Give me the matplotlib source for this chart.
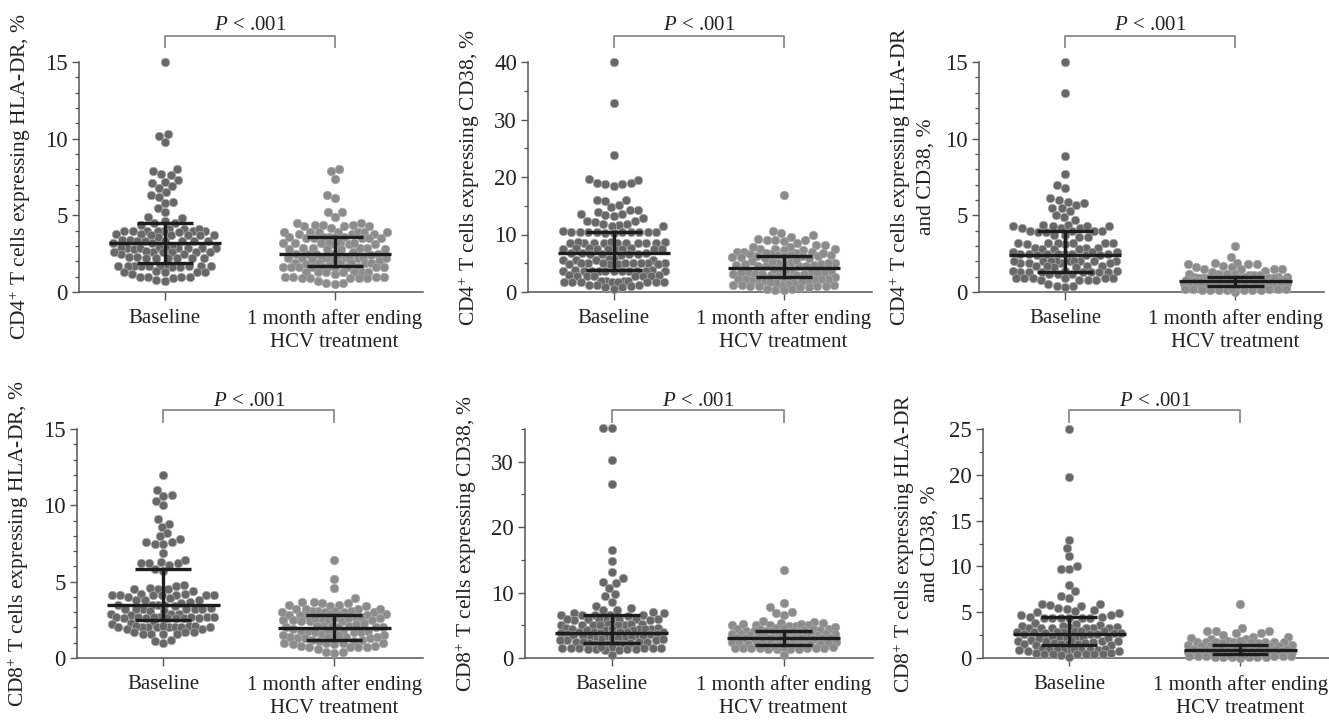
import numpy as np
import matplotlib
matplotlib.use("Agg")
import matplotlib.pyplot as plt
from matplotlib.ticker import MultipleLocator

plt.rcParams['font.family'] = ['Liberation Serif', 'DejaVu Serif']
plt.rcParams['mathtext.fontset'] = 'custom'
plt.rcParams['mathtext.rm'] = 'Liberation Serif'
plt.rcParams['mathtext.it'] = 'Liberation Serif:italic'
plt.rcParams['mathtext.bf'] = 'Liberation Serif:bold'

# ---------------- data ----------------
categories = ['Baseline', '1 month after ending\nHCV treatment']
p_label = '$\\mathit{P}$ < .001'

ylabels = ['CD4$^{+}$ T cells expressing HLA-DR, %',
           'CD4$^{+}$ T cells expressing CD38, %',
           'CD4$^{+}$ T cells expressing HLA-DR\nand CD38, %',
           'CD8$^{+}$ T cells expressing HLA-DR, %',
           'CD8$^{+}$ T cells expressing CD38, %',
           'CD8$^{+}$ T cells expressing HLA-DR\nand CD38, %']

y_max = [15, 40, 15, 15, 35, 25]
y_major = [5, 10, 5, 5, 10, 5]
y_minor = [1, 5, 1, 1, 5, 2.5]

cd4_hladr_base = [15.0, 10.3, 10.2, 9.8, 8.0, 7.9, 7.7, 7.6, 7.3, 7.2, 7.1, 6.9, 6.8, 6.5,
                  6.3, 6.2, 5.9, 5.8, 5.5, 5.2, 4.9, 4.8,
                  4.6, 4.5, 4.5, 4.4,
                  4.1, 4.1, 4.0, 4.0, 4.0, 4.0, 4.0, 3.9, 4.0, 4.1, 4.0,
                  3.8, 3.7, 3.7, 3.7, 3.6, 3.7, 3.7, 3.8,
                  3.4, 3.3, 3.3, 3.3, 3.2, 3.3, 3.3, 3.4, 3.3, 3.2,
                  2.9, 2.9, 2.9, 2.9, 3.0, 2.9, 2.8, 2.9, 2.9, 2.9, 2.9,
                  2.6, 2.6, 2.6, 2.5, 2.6, 2.6, 2.5, 2.7, 2.6,
                  2.2, 2.2, 2.3, 2.2, 2.2, 2.2, 2.3, 2.2,
                  1.7, 1.7, 1.7, 1.7, 1.7, 1.6, 1.7, 1.6, 1.7, 1.7, 1.7, 1.7,
                  1.3, 1.3, 1.3, 1.2, 1.3, 1.4,
                  1.0, 1.0, 0.9, 1.0, 1.0,
                  0.8, 0.7]
cd4_hladr_post = [8.0, 7.9, 7.4, 6.3, 6.1, 5.2, 5.2, 4.9,
                  4.5, 4.4, 4.4, 4.3, 4.3, 4.4, 4.5, 4.3, 4.2,
                  3.9, 3.9, 3.8, 3.9, 3.9, 3.8, 3.9, 3.9, 3.8, 3.9,
                  3.6, 3.5, 3.5, 3.6, 3.5, 3.6, 3.5, 3.6, 3.5, 3.6,
                  3.2, 3.2, 3.1, 3.2, 3.2, 3.1, 3.2, 3.2, 3.1,
                  2.9, 2.8, 2.9, 2.8, 2.9, 2.8, 2.9, 2.8,
                  2.5, 2.5, 2.4, 2.5, 2.5, 2.5, 2.6,
                  2.2, 2.2, 2.2, 2.1, 2.2, 2.2, 2.3, 2.2, 2.2, 2.1, 2.2, 2.2,
                  1.9, 1.9, 1.9, 2.0, 1.9, 1.9, 1.9, 1.8,
                  1.6, 1.6, 1.6, 1.6, 1.6, 1.6, 1.7, 1.6, 1.6, 1.6, 1.6,
                  1.3, 1.3, 1.3, 1.2, 1.3, 1.3, 1.3, 1.3,
                  1.0, 0.9, 1.0, 0.9, 1.0, 0.9, 1.0, 0.9, 0.9,
                  0.6, 0.5, 0.6, 0.7]

cd4_cd38_base = [40.0, 32.8, 23.9,
                 19.5, 18.9, 18.7, 18.5, 18.8, 19.0, 19.6,
                 16.0, 15.8, 14.7, 15.2, 16.0,
                 14.2, 14.0, 13.5, 12.8, 13.3, 13.5, 13.4, 14.2,
                 12.3, 11.8, 11.6, 11.5, 11.5, 11.9, 12.2, 12.4,
                 10.5, 10.4, 10.4, 10.3, 10.5, 10.4, 10.3, 10.5, 10.4, 10.6, 10.4, 10.5,
                 8.7, 8.6, 8.5, 8.6, 8.6, 8.7, 8.5, 8.6, 8.6, 8.5, 8.7, 8.6,
                 7.6, 7.5, 7.4, 7.5, 7.6, 7.5, 7.4, 7.6, 7.5, 7.5,
                 6.7, 6.6, 6.6, 6.5, 6.7, 6.6, 6.6, 6.8,
                 5.7, 5.6, 5.5, 5.6, 5.7, 5.5,
                 5.0, 5.1, 4.9, 5.0, 5.0, 4.9, 5.1, 5.0, 4.9, 5.0, 5.0, 4.8,
                 3.7, 3.7, 3.8, 3.6, 3.7, 3.7, 3.6, 3.8, 3.7, 3.7, 3.6, 3.7, 3.7,
                 2.8, 2.9, 2.7, 2.8, 2.8, 2.7, 2.9, 2.8,
                 1.9, 1.8, 1.8, 1.7, 1.9, 1.8, 1.8, 1.9, 1.7, 1.8, 1.8, 1.9,
                 1.3, 1.2, 1.1, 1.3,
                 0.8, 0.6, 0.9]
cd4_cd38_post = [16.8, 10.6, 10.3,
                 9.6, 9.1, 9.0, 8.6, 8.9, 9.1, 9.3, 9.9,
                 8.2, 7.8, 7.5, 7.4, 7.3, 6.9, 6.9, 7.0, 7.3, 7.5, 7.9, 8.2,
                 6.8, 6.6, 6.5, 6.4, 6.3, 6.2, 6.1, 6.0, 6.0, 6.1, 6.2, 6.3, 6.5, 6.6, 6.7, 6.8,
                 5.4, 5.2, 5.0, 4.9, 4.8, 4.7, 4.6, 4.5, 4.5, 4.6, 4.7, 4.8, 5.0, 5.1, 5.3, 5.5,
                 3.9, 3.7, 3.5, 3.4, 3.3, 3.2, 3.1, 3.0, 3.0, 3.1, 3.2, 3.3, 3.5, 3.6, 3.8, 4.0,
                 2.6, 2.4, 2.3, 2.2, 2.1, 2.0, 1.9, 1.9, 2.0, 2.1, 2.2, 2.3, 2.5, 2.7,
                 1.6, 1.4, 1.3, 1.2, 1.1, 1.0, 0.9, 0.9, 1.0, 1.1, 1.2, 1.3, 1.5, 1.7,
                 0.5, 0.3, 0.4, 0.6]

cd4_both_base = [15.0, 13.0, 8.9, 7.7, 7.0, 6.8,
                 6.1, 6.0, 5.9, 5.8, 5.7,
                 5.5, 5.5, 5.3, 5.0, 4.9, 4.7,
                 4.4, 4.3, 4.2, 4.3, 4.2, 4.3, 4.2, 4.3, 4.4,
                 4.0, 3.9, 4.0, 4.0, 3.9, 4.0,
                 3.7, 3.6, 3.7, 3.6,
                 3.2, 3.2, 3.1, 3.2, 3.2, 3.1, 3.2, 3.2,
                 2.9, 2.8, 2.9, 2.8, 2.9, 2.8,
                 2.6, 2.5, 2.5, 2.4, 2.5, 2.4, 2.5, 2.4, 2.5, 2.5, 2.6, 2.5, 2.6,
                 2.0, 2.0, 1.9, 2.0, 2.0, 1.9, 2.0, 1.9, 2.0, 2.0, 1.9, 2.0, 2.0,
                 1.7, 1.6, 1.7, 1.6, 1.7, 1.7,
                 1.4, 1.3, 1.3, 1.2, 1.3, 1.3, 1.2, 1.3, 1.3, 1.2, 1.3, 1.4, 1.4,
                 0.9, 0.8, 0.9, 0.8, 0.9, 0.8, 0.9, 0.8, 0.9, 0.9,
                 0.4, 0.3, 0.4, 0.5]
cd4_both_post = [3.0, 2.3, 1.9, 1.9,
                 1.8, 1.8, 1.6, 1.5, 1.5, 1.4, 1.5, 1.5, 1.6, 1.7, 1.8,
                 1.2, 1.2, 1.1, 1.1, 1.0, 1.0, 1.0, 0.9, 0.9, 1.0, 1.0, 1.1, 1.1, 1.2, 1.2, 1.3,
                 0.9, 0.9, 0.8, 0.9, 0.8, 0.9, 0.8, 0.9, 0.9, 0.8, 0.9, 1.0,
                 0.8, 0.8, 0.8, 0.7, 0.7, 0.7, 0.7, 0.7, 0.6, 0.6, 0.7, 0.7, 0.7, 0.7, 0.8, 0.8, 0.8, 0.9,
                 0.6, 0.5, 0.6, 0.5, 0.6, 0.5, 0.6, 0.5, 0.6, 0.6, 0.5, 0.6,
                 0.5, 0.5, 0.5, 0.4, 0.4, 0.4, 0.4, 0.3, 0.3, 0.3, 0.3, 0.4, 0.4, 0.4, 0.5, 0.5, 0.5, 0.6,
                 0.2, 0.2, 0.2, 0.1, 0.1, 0.1, 0.1, 0.0, 0.1, 0.1, 0.2, 0.2, 0.2, 0.1]

cd8_hladr_base = [12.0, 11.0, 10.7, 10.6, 10.3, 10.0,
                  9.1, 8.8, 8.6, 8.2, 8.0,
                  7.8, 7.6, 7.5, 7.5, 7.6,
                  6.9,
                  6.3, 6.2, 6.2, 6.1, 6.2, 6.4,
                  5.8, 5.7,
                  4.8, 4.7, 4.6,
                  4.5, 4.5, 4.4, 4.5,
                  4.2, 4.1, 4.1, 4.1, 4.0, 4.1, 4.1, 4.2, 4.1, 4.1,
                  3.9, 3.8, 3.8, 3.7, 3.8,
                  3.5, 3.5, 3.4, 3.5, 3.5, 3.6,
                  3.2, 3.2, 3.1, 3.2, 3.2, 3.1, 3.2, 3.2, 3.3,
                  2.9, 2.8, 2.9, 2.9,
                  2.7, 2.7, 2.6, 2.7, 2.6, 2.6, 2.6, 2.7, 2.6, 2.6, 2.7, 2.7, 2.7,
                  2.3, 2.3, 2.2,
                  2.1, 2.0, 2.0, 2.0, 1.9, 2.0, 2.0, 2.0, 1.9, 2.0, 2.0, 2.1, 2.1, 2.1,
                  1.7, 1.6, 1.6, 1.6, 1.6, 1.7, 1.7,
                  1.2, 1.1, 0.95]
cd8_hladr_post = [6.4, 5.2, 4.6, 3.9,
                  3.7, 3.6, 3.5, 3.4, 3.4, 3.5, 3.6, 3.7,
                  3.2, 3.2, 3.1, 3.1, 3.0, 3.0, 2.9, 3.0, 3.0, 3.1, 3.1, 3.2, 3.2,
                  2.8, 2.8, 2.7, 2.8, 2.7, 2.8, 2.8, 2.9,
                  2.6, 2.6, 2.5, 2.5, 2.4, 2.4, 2.3, 2.4, 2.5, 2.5, 2.6, 2.6, 2.6,
                  2.1, 2.1, 2.0, 2.0, 1.9, 2.0, 2.0, 2.1, 2.1, 2.2,
                  1.8, 1.8, 1.7, 1.7, 1.6, 1.7, 1.7, 1.8, 1.8, 1.8,
                  1.5, 1.4, 1.4, 1.3, 1.3, 1.2, 1.2, 1.3, 1.3, 1.4, 1.4, 1.5, 1.5,
                  1.0, 1.0, 0.9, 0.9, 1.0, 1.0, 1.1, 1.1,
                  0.8, 0.7, 0.7, 0.6, 0.7, 0.7, 0.8,
                  0.4, 0.3, 0.4]

cd8_cd38_base = [35.1, 35.1, 30.2, 26.6,
                 16.5, 14.8, 13.2, 12.2, 11.6, 11.4, 10.7,
                 9.8, 9.4, 8.6, 8.0, 7.6, 7.4, 7.3, 7.0, 6.9, 6.9,
                 6.6, 6.5, 6.5, 6.4, 6.5, 6.6,
                 6.0, 6.0, 5.9, 5.9, 5.8, 5.8, 5.9, 5.9, 6.0, 6.0,
                 5.2, 5.1, 5.1, 5.0, 5.0, 5.1, 5.1, 5.2, 5.2,
                 4.6, 4.5, 4.4, 4.3, 4.3, 4.3, 4.4, 4.4, 4.5, 4.6,
                 4.0, 3.9, 3.8, 3.7, 3.7, 3.6, 3.7, 3.7, 3.8, 3.9, 3.9, 4.0,
                 3.4, 3.3, 3.2, 3.1, 3.0, 2.9, 2.8, 2.8, 2.8, 2.9, 3.0, 3.1, 3.2, 3.3, 3.4, 3.5,
                 2.5, 2.4, 2.3, 2.2, 2.1, 2.1, 2.2, 2.3, 2.4, 2.5,
                 1.7, 1.6, 1.6, 1.5, 1.4, 1.3, 1.2, 1.2, 1.3, 1.4, 1.5, 1.6, 1.6, 1.7,
                 0.5]
cd8_cd38_post = [13.5, 8.4, 7.8, 7.0, 6.9, 6.6, 5.6, 5.5,
                 5.3, 5.2, 5.1, 5.0, 4.9, 4.9, 5.0, 5.1, 5.2, 5.4,
                 4.6, 4.5, 4.4, 4.3, 4.2, 4.1, 4.1, 4.1, 4.2, 4.3, 4.4, 4.5, 4.6, 4.7,
                 3.8, 3.7, 3.7, 3.6, 3.5, 3.4, 3.3, 3.3, 3.4, 3.5, 3.6, 3.7, 3.7, 3.8, 3.9, 3.9,
                 3.1, 3.0, 3.0, 2.9, 2.8, 2.7, 2.6, 2.6, 2.7, 2.8, 2.9, 3.0, 3.0, 3.1, 3.2, 3.2,
                 2.4, 2.3, 2.2, 2.1, 2.0, 2.0, 1.9, 2.0, 2.0, 2.1, 2.2, 2.3, 2.4, 2.5,
                 1.7, 1.6, 1.6, 1.5, 1.5, 1.4, 1.3, 1.3, 1.4, 1.5, 1.5, 1.6, 1.7, 1.8,
                 0.5]

cd8_both_base = [25.0, 19.8, 12.9, 12.0, 11.1, 10.0, 9.7, 9.7, 8.0, 7.3, 6.8, 6.6,
                 5.9, 5.8, 5.5, 5.4, 5.7, 5.9,
                 5.2, 4.9, 5.0, 4.7, 4.7, 5.1,
                 4.5, 4.4, 4.4, 4.4, 4.4, 4.4, 4.4, 4.5,
                 3.7, 3.8, 3.6,
                 3.5, 3.4, 3.3, 3.3, 3.3, 3.3, 3.3, 3.3, 3.4, 3.5,
                 2.9, 2.8, 2.8, 2.7, 2.7, 2.6, 2.6, 2.6, 2.7, 2.7, 2.8, 2.8, 2.9, 3.0,
                 2.3, 2.2, 2.1, 2.0, 1.9, 1.9, 1.8, 1.9, 1.9, 2.0, 2.1, 2.2, 2.3, 2.4,
                 1.6, 1.5, 1.5, 1.4, 1.4, 1.5, 1.5, 1.6,
                 1.0, 0.9, 0.9, 0.9, 0.9, 0.8, 0.8, 0.9, 0.9, 0.9, 0.9, 1.0, 1.0,
                 0.5, 0.4, 0.4, 0.4, 0.3, 0.4, 0.4, 0.4, 0.5,
                 0.1]
cd8_both_post = [5.9, 3.3,
                 3.0, 2.9, 2.7, 2.5, 2.3, 2.1, 2.1, 2.2, 2.3, 2.7, 3.0,
                 1.9, 1.8, 1.8, 1.7, 1.7, 1.6, 1.5, 1.5, 1.6, 1.7, 1.7, 1.8, 1.8, 1.9,
                 1.4, 1.3, 1.3, 1.2, 1.2, 1.1, 1.1, 1.0, 1.0, 1.1, 1.1, 1.2, 1.2, 1.3, 1.3, 1.4,
                 0.9, 0.9, 0.9, 0.8, 0.8, 0.8, 0.7, 0.7, 0.7, 0.7, 0.8, 0.8, 0.8, 0.9, 0.9, 0.9, 1.0, 1.0,
                 0.6, 0.6, 0.5, 0.5, 0.5, 0.4, 0.4, 0.4, 0.4, 0.4, 0.4, 0.5, 0.5, 0.5, 0.6, 0.6, 0.6, 0.6,
                 0.3, 0.2, 0.2, 0.2, 0.1, 0.1, 0.1, 0.0, 0.1, 0.1, 0.1, 0.2, 0.2, 0.2, 0.3, 0.3]

base_groups = [cd4_hladr_base, cd4_cd38_base, cd4_both_base,
               cd8_hladr_base, cd8_cd38_base, cd8_both_base]
post_groups = [cd4_hladr_post, cd4_cd38_post, cd4_both_post,
               cd8_hladr_post, cd8_cd38_post, cd8_both_post]

# median and interquartile range
median_base = [3.2, 6.7, 2.4, 3.5, 3.8, 2.67]
q1_base = [1.9, 3.8, 1.3, 2.5, 2.35, 1.46]
q3_base = [4.5, 10.5, 4.0, 5.8, 6.5, 4.43]
median_post = [2.5, 4.25, 0.72, 1.97, 3.07, 0.84]
q1_post = [1.7, 2.6, 0.39, 1.2, 2.05, 0.48]
q3_post = [3.6, 6.2, 0.96, 2.8, 4.2, 1.39]

# ---------------- layout ----------------
W, H = 1329, 720
boxes = [(79, 62, 344, 230), (528, 62, 344, 230), (979, 62, 345, 230),
         (77, 429, 346, 229), (525, 429, 348, 229), (983, 429, 346, 229)]
bracket_y = [(1.065, 1.113, 1.16)] * 3 + [(1.029, 1.081, 1.118)] * 3
label_x = [-0.133, -0.133, -0.126, -0.133, -0.133, -0.126]

BASE_COL = '#686868'
POST_COL = '#8c8c8c'
EDGE_COL = '#a8a8a8'
LINE_COL = '#1c1c1c'
AX_COL = '#555555'
TXT_COL = '#222222'
DOT_D = 8.5      # marker diameter in px
MAX_HALF = 52.0  # max swarm half width in px


def swarm_x(ax, xc, vals, d, maxhalf):
    vals = np.asarray(vals, float)
    pix = ax.transData.transform(np.column_stack([np.full(vals.size, xc), vals]))
    ys = pix[:, 1]
    order = np.argsort(ys, kind='mergesort')
    px_list, py_list = [], []
    offs = np.zeros(vals.size)
    for i in order:
        y = ys[i]
        px = np.array(px_list)
        py = np.array(py_list)
        chosen = None
        for dd in (d, 0.85 * d, 0.7 * d, 0.55 * d, 0.4 * d, 0.25 * d):
            if px.size:
                m = np.abs(py - y) < dd
                nx, ny = px[m], py[m]
            else:
                nx = ny = np.array([])
            dx = np.sqrt(np.maximum(dd ** 2 - (ny - y) ** 2, 0))
            cands = np.concatenate([[0.0], nx + dx, nx - dx])
            cands = cands[np.lexsort((cands, np.abs(cands)))]
            for c in cands:
                if abs(c) > maxhalf + 1e-9:
                    break
                if nx.size == 0 or np.all((nx - c) ** 2 + (ny - y) ** 2 >= dd ** 2 - 1e-6):
                    chosen = c
                    break
            if chosen is not None:
                break
        if chosen is None:
            chosen = 0.0
        offs[i] = chosen
        px_list.append(chosen)
        py_list.append(y)
    ppu = ax.transData.transform((1, 0))[0] - ax.transData.transform((0, 0))[0]
    return xc + offs / ppu


fig = plt.figure(figsize=(W / 100, H / 100), dpi=100)

for k in range(6):
    L, T, w, h = boxes[k]
    ax = fig.add_axes([L / W, (H - T - h) / H, w / W, h / H])
    ax.set_xlim(-0.505, 1.52)
    ax.set_ylim(0, y_max[k])
    for s in ('top', 'right'):
        ax.spines[s].set_visible(False)
    for s in ('left', 'bottom'):
        ax.spines[s].set_color(AX_COL)
        ax.spines[s].set_linewidth(1.1)

    ax.yaxis.set_major_locator(MultipleLocator(y_major[k]))
    ax.yaxis.set_minor_locator(MultipleLocator(y_minor[k]))
    ax.set_xticks([0, 1])
    ax.set_xticklabels(categories, fontsize=15, color=TXT_COL, linespacing=1.35)
    ax.tick_params(axis='y', which='major', length=5, width=1.0, pad=3,
                   labelsize=16.5, color=AX_COL, labelcolor=TXT_COL)
    ax.tick_params(axis='y', which='minor', length=3, width=0.9, color=AX_COL)
    ax.tick_params(axis='x', which='major', length=6, width=1.0, pad=6, color=AX_COL)

    ax.set_ylabel(ylabels[k], fontsize=15.5, color=TXT_COL, linespacing=1.25)
    ax.yaxis.set_label_coords(label_x[k], 0.5)

    for xc, vals, col in ((0, base_groups[k], BASE_COL), (1, post_groups[k], POST_COL)):
        xs = swarm_x(ax, xc, vals, DOT_D, MAX_HALF)
        ax.scatter(xs, vals, s=(DOT_D * 0.72) ** 2, facecolor=col, edgecolor=EDGE_COL,
                   linewidth=0.5, zorder=3, clip_on=False)

    for xc, med, lo, hi in ((0, median_base[k], q1_base[k], q3_base[k]),
                            (1, median_post[k], q1_post[k], q3_post[k])):
        ax.plot([xc - 0.33, xc + 0.33], [med, med], color=LINE_COL, lw=2.4,
                solid_capstyle='butt', zorder=5)
        ax.plot([xc - 0.165, xc + 0.165], [lo, lo], color=LINE_COL, lw=2.4,
                solid_capstyle='butt', zorder=5)
        ax.plot([xc - 0.165, xc + 0.165], [hi, hi], color=LINE_COL, lw=2.4,
                solid_capstyle='butt', zorder=5)
        ax.plot([xc, xc], [lo, hi], color=LINE_COL, lw=2.4, zorder=5)

    yb, yt, ytxt = bracket_y[k]
    tr = ax.get_xaxis_transform()
    ax.plot([0, 0, 1, 1], [yb, yt, yt, yb], transform=tr, color='#8a8a8a',
            lw=1.3, clip_on=False)
    ax.text(0.5, ytxt, p_label, transform=tr, ha='center', va='center',
            fontsize=15, color=TXT_COL)

fig.savefig('out.png', dpi=100)
